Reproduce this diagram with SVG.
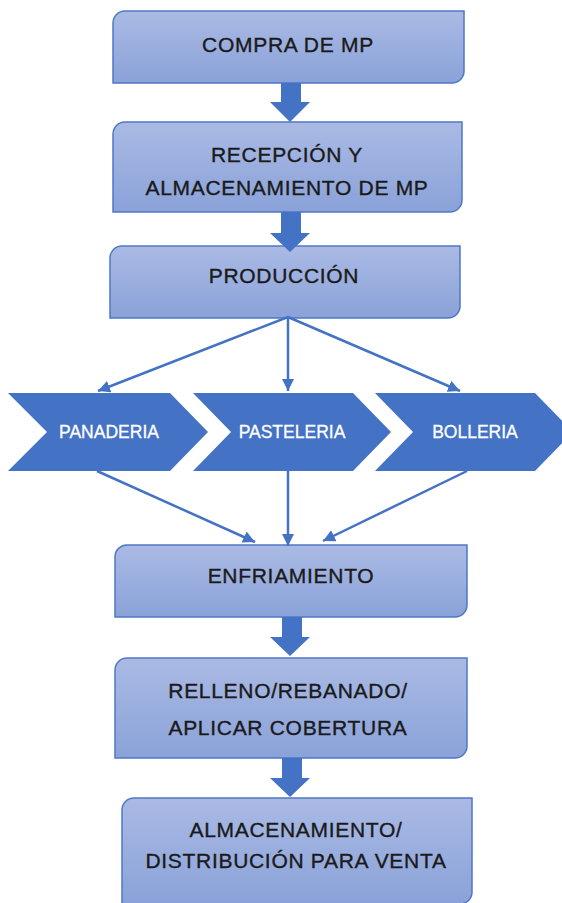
<svg xmlns="http://www.w3.org/2000/svg" width="562" height="903" viewBox="0 0 562 903">
<defs>
<linearGradient id="g" x1="0" y1="0" x2="0" y2="1">
<stop offset="0" stop-color="#aabae4"/>
<stop offset="1" stop-color="#8aa2d9"/>
</linearGradient>
<marker id="ah" markerUnits="userSpaceOnUse" markerWidth="14" markerHeight="14" viewBox="0 0 14 14" refX="12" refY="7" orient="auto">
<path d="M0,1 L12,7 L0,13 Z" fill="#4472c4"/>
</marker>
<style>
.box{fill:url(#g);stroke:#4f78c6;stroke-width:1.5}
.t{font-family:"Liberation Sans",Arial,sans-serif;font-size:21px;fill:#1a1a1a;stroke:#1a1a1a;stroke-width:0.35;text-anchor:middle;letter-spacing:0.7px}
.ch{fill:#4472c4}
.ct{font-family:"Liberation Sans",Arial,sans-serif;font-size:17.5px;fill:#ffffff;stroke:#ffffff;stroke-width:0.3;text-anchor:middle}
.ba{fill:#4472c4}
.cn{stroke:#4472c4;stroke-width:2.5;fill:none;marker-end:url(#ah)}
</style>
</defs>
<rect width="562" height="903" fill="#ffffff"/>

<g id="compra">
<path class="box" d="M125,11 H464 V71 A12,12 0 0 1 452,83 H113 V23 A12,12 0 0 1 125,11 Z"/>
<text class="t" x="288" y="52">COMPRA DE MP</text>
</g>
<g id="recepcion">
<path class="box" d="M125,122 H462 V200 A12,12 0 0 1 450,212 H113 V134 A12,12 0 0 1 125,122 Z"/>
<text class="t" x="287" y="162">RECEPCIÓN Y</text>
<text class="t" x="287" y="195">ALMACENAMIENTO DE MP</text>
</g>
<g id="produccion">
<path class="box" d="M122,246 H460 V306 A12,12 0 0 1 448,318 H110 V258 A12,12 0 0 1 122,246 Z"/>
<text class="t" x="284" y="283">PRODUCCIÓN</text>
</g>

<g id="panaderia">
<path class="ch" d="M8,393 H170 L208,432 L170,471 H8 L47,432 Z"/>
<text class="ct" x="109" y="438">PANADERIA</text>
</g>
<g id="pasteleria">
<path class="ch" d="M193,393 H353 L391,432 L353,471 H193 L231,432 Z"/>
<text class="ct" x="292" y="438">PASTELERIA</text>
</g>
<g id="bolleria">
<path class="ch" d="M375,393 H535 L573,432 L535,471 H375 L413,432 Z"/>
<text class="ct" x="475" y="438">BOLLERIA</text>
</g>

<g id="enfriamiento">
<path class="box" d="M128,545 H467 V605 A12,12 0 0 1 455,617 H115 V557 A12,12 0 0 1 128,545 Z"/>
<text class="t" x="291" y="583">ENFRIAMIENTO</text>
</g>
<g id="relleno">
<path class="box" d="M127,658 H467 V746 A12,12 0 0 1 455,758 H115 V670 A12,12 0 0 1 127,658 Z"/>
<text class="t" x="288" y="698">RELLENO/REBANADO/</text>
<text class="t" x="288" y="735">APLICAR COBERTURA</text>
</g>
<g id="almacenamiento">
<path class="box" d="M134,798 H472 V892 A12,12 0 0 1 460,904 H122 V810 A12,12 0 0 1 134,798 Z"/>
<text class="t" x="296" y="837">ALMACENAMIENTO/</text>
<text class="t" x="296" y="868">DISTRIBUCIÓN PARA VENTA</text>
</g>

<g id="connectors">
<path class="ba" d="M281,83 H301 V102 H310 L290,122 L270,102 H281 Z"/>
<path class="ba" d="M281,212 H301 V233 H310 L290,252 L270,233 H281 Z"/>
<path class="ba" d="M282,617 H302 V637 H310 L290,656 L270,637 H282 Z"/>
<path class="ba" d="M282,758 H302 V778 H310 L290,797 L270,778 H282 Z"/>
<line class="cn" x1="288" y1="317" x2="98" y2="391"/>
<line class="cn" x1="288" y1="317" x2="288" y2="391"/>
<line class="cn" x1="288" y1="317" x2="460" y2="391"/>
<line class="cn" x1="97" y1="471" x2="255" y2="542"/>
<line class="cn" x1="288" y1="471" x2="288" y2="546"/>
<line class="cn" x1="467" y1="471" x2="323" y2="541"/>
</g>
</svg>
